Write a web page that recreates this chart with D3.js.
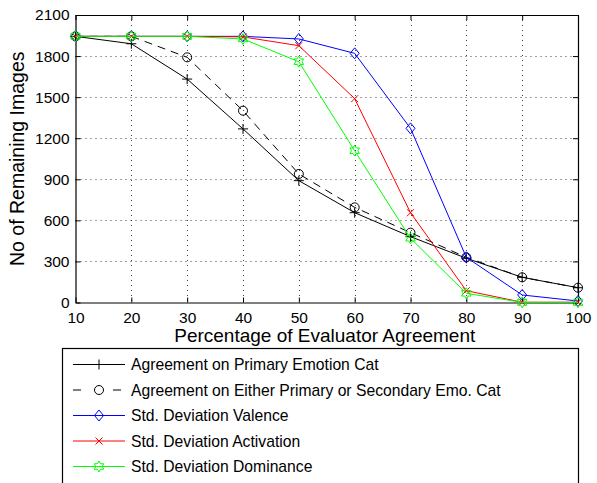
<!DOCTYPE html>
<html>
<head>
<meta charset="utf-8">
<script src="https://cdn.jsdelivr.net/npm/d3@7"></script>
<style>
  body { margin: 0; background: #fff; }
  svg { display: block; font-family: "Liberation Sans", Arial, Helvetica, sans-serif; }
</style>
</head>
<body>
<svg id="chart" width="597" height="483"></svg>
<script>
'use strict';

// data
const agreementPct = [10, 20, 30, 40, 50, 60, 70, 80, 90, 100];
const primaryCat   = [1944, 1890, 1632, 1268, 890, 656, 481, 323, 184, 108];
const eitherCat    = [1944, 1944, 1791, 1401, 939, 695, 510, 330, 184, 108];
const stdValence   = [1944, 1944, 1944, 1944, 1925, 1820, 1272, 330, 55, 11];
const stdActivation= [1944, 1944, 1944, 1940, 1876, 1489, 656, 86, 2, 2];
const stdDominance = [1944, 1944, 1944, 1925, 1759, 1109, 469, 67, 1, 1];
const xTicks = [10, 20, 30, 40, 50, 60, 70, 80, 90, 100];
const yTicks = [0, 300, 600, 900, 1200, 1500, 1800, 2100];

const seriesNames = [
  'Agreement on Primary Emotion Cat',
  'Agreement on Either Primary or Secondary Emo. Cat',
  'Std. Deviation Valence',
  'Std. Deviation Activation',
  'Std. Deviation Dominance'
];

const series = [
  {name: seriesNames[0], values: primaryCat,    color: '#000000', dash: null,  marker: 'plus'},
  {name: seriesNames[1], values: eitherCat,     color: '#000000', dash: '8,6', marker: 'circle'},
  {name: seriesNames[2], values: stdValence,    color: '#0000ff', dash: null,  marker: 'diamond'},
  {name: seriesNames[3], values: stdActivation, color: '#ff0000', dash: null,  marker: 'cross'},
  {name: seriesNames[4], values: stdDominance,  color: '#00ff00', dash: null,  marker: 'hexagram'}
];

const svg = d3.select('#chart');
const plot = {left: 75.5, right: 578, top: 15, bottom: 302.5};

const x = d3.scaleLinear().domain([10, 100]).range([plot.left, plot.right]);
const y = d3.scaleLinear().domain([0, 2100]).range([plot.bottom, plot.top]);

// dotted grid
const grid = svg.append('g').attr('class', 'grid')
    .attr('stroke', '#444').attr('stroke-width', 1).attr('stroke-dasharray', '1,4');
grid.selectAll('line.gx').data(xTicks.slice(1, -1)).enter().append('line')
    .attr('x1', d => Math.round(x(d)) + 0.5).attr('x2', d => Math.round(x(d)) + 0.5)
    .attr('y1', plot.top).attr('y2', plot.bottom);
grid.selectAll('line.gy').data(yTicks.slice(1, -1)).enter().append('line')
    .attr('y1', d => Math.round(y(d)) + 0.5).attr('y2', d => Math.round(y(d)) + 0.5)
    .attr('x1', plot.left).attr('x2', plot.right);

// axes, ticks pointing inward, mirrored on top/right
const tickLen = 5;
const fmt = d3.format('d');
const axisBottom = svg.append('g').attr('transform', 'translate(0,' + plot.bottom + ')')
    .call(d3.axisBottom(x).tickValues(xTicks).tickFormat(fmt).tickSizeInner(-tickLen).tickSizeOuter(0).tickPadding(9));
const axisLeft = svg.append('g').attr('transform', 'translate(' + plot.left + ',0)')
    .call(d3.axisLeft(y).tickValues(yTicks).tickFormat(fmt).tickSizeInner(-tickLen).tickSizeOuter(0).tickPadding(6));
const axisTop = svg.append('g').attr('transform', 'translate(0,' + plot.top + ')')
    .call(d3.axisTop(x).tickValues(xTicks).tickSizeInner(-tickLen).tickSizeOuter(0).tickFormat(''));
const axisRight = svg.append('g').attr('transform', 'translate(' + plot.right + ',0)')
    .call(d3.axisRight(y).tickValues(yTicks).tickSizeInner(-tickLen).tickSizeOuter(0).tickFormat(''));

[axisBottom, axisLeft, axisTop, axisRight].forEach(function(a) {
    a.selectAll('path.domain').attr('stroke', '#000').attr('stroke-width', 1.2);
    a.selectAll('.tick line').attr('stroke', '#000');
    a.selectAll('.tick text').attr('fill', '#000').style('font-size', '15.5px')
        .style('font-family', '"Liberation Sans", Arial, sans-serif');
});

// axis titles
svg.append('text')
    .attr('x', (plot.left + plot.right) / 2 - 2).attr('y', 341.5)
    .attr('text-anchor', 'middle').style('font-size', '19px')
    .text('Percentage of Evaluator Agreement');
svg.append('text')
    .attr('transform', 'translate(24,' + ((plot.top + plot.bottom) / 2) + ') rotate(-90)')
    .attr('text-anchor', 'middle').style('font-size', '19.5px')
    .text('No of Remaining Images');

// markers
function hexagramPath(r) {
    var pts = [];
    for (var i = 0; i < 12; i++) {
        var rr = i % 2 === 0 ? r : r / Math.sqrt(3);
        var a = -Math.PI / 2 + i * Math.PI / 6;
        pts.push([rr * Math.cos(a), rr * Math.sin(a)]);
    }
    return 'M' + pts.map(p => p[0].toFixed(2) + ',' + p[1].toFixed(2)).join('L') + 'Z';
}

function drawMarker(g, type, color) {
    if (type === 'plus') {
        g.append('path').attr('d', 'M-5,0H5M0,-5V5').attr('stroke', color).attr('fill', 'none');
    } else if (type === 'circle') {
        g.append('circle').attr('r', 4.5).attr('stroke', color).attr('fill', 'none');
    } else if (type === 'diamond') {
        g.append('path').attr('d', 'M0,-5.5L4.5,0L0,5.5L-4.5,0Z').attr('stroke', color).attr('fill', 'none');
    } else if (type === 'cross') {
        g.append('path').attr('d', 'M-3.5,-3.5L3.5,3.5M-3.5,3.5L3.5,-3.5').attr('stroke', color).attr('fill', 'none');
    } else if (type === 'hexagram') {
        g.append('path').attr('d', hexagramPath(5.5)).attr('stroke', color).attr('fill', 'none');
    }
}

const line = d3.line()
    .x((d, i) => x(agreementPct[i]))
    .y(d => y(d));

series.forEach(function(s) {
    var g = svg.append('g').attr('class', 'series');
    g.append('path')
        .datum(s.values)
        .attr('d', line)
        .attr('fill', 'none')
        .attr('stroke', s.color)
        .attr('stroke-width', 1)
        .attr('stroke-dasharray', s.dash);
    g.selectAll('g.mk').data(s.values).enter().append('g')
        .attr('class', 'mk')
        .attr('transform', (d, i) => 'translate(' + x(agreementPct[i]) + ',' + y(d) + ')')
        .each(function() { drawMarker(d3.select(this), s.marker, s.color); });
});

// legend
const legend = svg.append('g').attr('class', 'legend');
legend.append('rect')
    .attr('x', 62.5).attr('y', 348.5).attr('width', 516).attr('height', 150)
    .attr('fill', '#fff').attr('stroke', '#000').attr('stroke-width', 1.2);

const legendY = d3.scalePoint().domain(seriesNames).range([364.5, 466.5]);
series.forEach(function(s) {
    var row = legend.append('g').attr('transform', 'translate(0,' + legendY(s.name) + ')');
    row.append('line')
        .attr('x1', 73).attr('x2', 125).attr('y1', 0).attr('y2', 0)
        .attr('stroke', s.color).attr('stroke-width', 1)
        .attr('stroke-dasharray', s.dash ? '8,32' : null);
    var mk = row.append('g').attr('transform', 'translate(99,0)');
    drawMarker(mk, s.marker, s.color);
    row.append('text')
        .attr('x', 131).attr('y', 0).attr('dy', '0.36em')
        .style('font-size', '15.7px')
        .text(s.name);
});
</script>
</body>
</html>
